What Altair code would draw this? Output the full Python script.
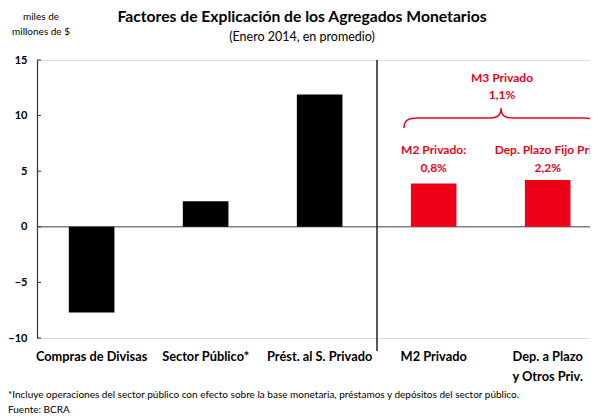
import altair as alt
import pandas as pd

categories = ["Compras de Divisas", "Sector Público*", "Prést. al S. Privado", "M2 Privado", "Dep. a Plazo|y Otros Priv."]
values = [-7.7, 2.3, 11.9, 3.9, 4.2]
groups = ["factor", "factor", "factor", "agregado", "agregado"]
y_ticks = [-10, -5, 0, 5, 10, 15]
annot_cats = ["M2 Privado", "Dep. a Plazo|y Otros Priv."]
annot_names = ["M2 Privado:", "Dep. Plazo Fijo Priv."]
annot_pcts = ["0,8%", "2,2%"]
m3_name = "M3 Privado"
m3_pct = "1,1%"
title_text = "Factores de Explicación de los Agregados Monetarios"
subtitle_text = "(Enero 2014, en promedio)"
unit_lines = ["miles de", "millones de $"]
footnote = "*Incluye operaciones del sector público con efecto sobre la base monetaria, préstamos y depósitos del sector público."
source = "Fuente: BCRA"

FONT = "Lato"
RED = "#F00018"
W, H = 553, 278

df = pd.DataFrame({"cat": categories, "val": values, "grp": groups})
ticks_df = pd.DataFrame({"v": y_ticks})
annot_df = pd.DataFrame({"cat": annot_cats, "name": annot_names, "pct": annot_pcts})

xscale = alt.Scale(domain=categories, paddingInner=0.6, paddingOuter=0.225, align=0.62)
yscale = alt.Scale(domain=[-10, 15], nice=False, zero=False)

x_enc = alt.X("cat:N", scale=xscale, sort=categories,
              axis=alt.Axis(title=None, domain=False, ticks=False, labelAngle=0,
                            labelFont=FONT, labelFontWeight="bold", labelFontSize=12.8,
                            labelColor="#000", labelPadding=12, labelLineHeight=20,
                            labelExpr="split(datum.label, '|')", labelBaseline="top"))

bars = alt.Chart(df).mark_bar().encode(
    x=x_enc,
    y=alt.Y("val:Q", scale=yscale,
            axis=alt.Axis(title=None, values=y_ticks, grid=False, ticks=False,
                          domainColor="#333", domainWidth=1.2,
                          labelFont=FONT, labelFontWeight="bold", labelFontSize=11,
                          labelColor="#000", labelPadding=10)),
    color=alt.Color("grp:N", scale=alt.Scale(domain=["factor", "agregado"], range=["#000000", RED]), legend=None),
)

zero = alt.Chart(pd.DataFrame({"z": [0]})).mark_rule(color="#808080", strokeWidth=1.5).encode(
    y=alt.Y("z:Q", scale=yscale), x=alt.value(0), x2=alt.value(W + 20))

tick_marks = alt.Chart(ticks_df).mark_rule(color="#333", strokeWidth=1).encode(
    y=alt.Y("v:Q", scale=yscale), x=alt.value(0), x2=alt.value(4))

sep = alt.Chart(pd.DataFrame({"a": [0]})).mark_rule(color="#222", strokeWidth=1.5).encode(
    x=alt.value(340), y=alt.value(0), y2=alt.value(291))

annot_name = alt.Chart(annot_df).mark_text(font=FONT, fontWeight="bold", fontSize=12, color=RED).encode(
    x=alt.X("cat:N", scale=xscale, sort=categories), y=alt.value(90), text="name:N")
annot_pct = alt.Chart(annot_df).mark_text(font=FONT, fontWeight="bold", fontSize=12, color=RED).encode(
    x=alt.X("cat:N", scale=xscale, sort=categories), y=alt.value(108), text="pct:N")

m3a = alt.Chart(pd.DataFrame({"t": [m3_name]})).mark_text(font=FONT, fontWeight="bold", fontSize=12, color=RED).encode(
    x=alt.value(465), y=alt.value(18), text="t:N")
m3b = alt.Chart(pd.DataFrame({"t": [m3_pct]})).mark_text(font=FONT, fontWeight="bold", fontSize=12, color=RED).encode(
    x=alt.value(465), y=alt.value(35), text="t:N")

brace_path = ("M -1 0.206 C -1 0.12 -0.95 0.103 -0.85 0.103 L -0.12 0.103 "
              "C -0.04 0.103 0 0.08 0 0 C 0 0.08 0.04 0.103 0.12 0.103 "
              "L 0.85 0.103 C 0.95 0.103 1 0.12 1 0.206")
brace = alt.Chart(pd.DataFrame({"a": [0]})).mark_point(
    shape=brace_path, filled=False, stroke=RED, strokeWidth=1.5, size=37636, opacity=1).encode(
    x=alt.value(464), y=alt.value(48))

title1 = alt.Chart(pd.DataFrame({"t": [title_text]})).mark_text(font=FONT, fontWeight="bold", fontSize=15.7, color="#000").encode(
    x=alt.value(265), y=alt.value(-43), text="t:N")
title2 = alt.Chart(pd.DataFrame({"t": [subtitle_text]})).mark_text(font=FONT, fontSize=12.5, color="#000").encode(
    x=alt.value(265), y=alt.value(-23), text="t:N")

unit1 = alt.Chart(pd.DataFrame({"t": [unit_lines[0]]})).mark_text(font=FONT, fontSize=10, color="#000").encode(
    x=alt.value(4), y=alt.value(-43), text="t:N")
unit2 = alt.Chart(pd.DataFrame({"t": [unit_lines[1]]})).mark_text(font=FONT, fontSize=10, color="#000").encode(
    x=alt.value(4), y=alt.value(-28), text="t:N")

foot1 = alt.Chart(pd.DataFrame({"t": [footnote]})).mark_text(font=FONT, fontSize=10, color="#000", align="left").encode(
    x=alt.value(-29), y=alt.value(335), text="t:N")
foot2 = alt.Chart(pd.DataFrame({"t": [source]})).mark_text(font=FONT, fontSize=10, color="#000", align="left").encode(
    x=alt.value(-29), y=alt.value(350), text="t:N")

chart = alt.layer(
    zero, bars, tick_marks, sep, annot_name, annot_pct, m3a, m3b, brace,
    title1, title2, unit1, unit2, foot1, foot2
).properties(
    width=W, height=H,
    autosize=alt.AutoSizeParams(type="none"),
    padding={"left": 29, "top": 52, "right": 0, "bottom": 78},
).configure_view(stroke=None).configure(background="white")

chart.save("out.html", embed_options={"renderer": "svg", "actions": False})
